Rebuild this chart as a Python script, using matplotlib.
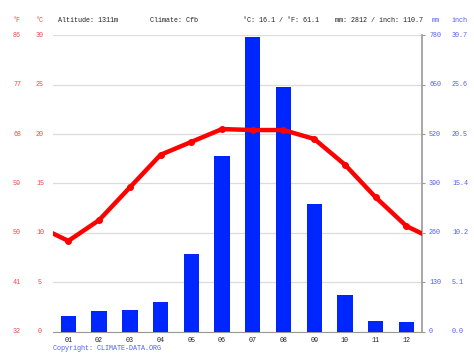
import matplotlib
matplotlib.use("Agg")
import matplotlib.pyplot as plt
from matplotlib.transforms import blended_transform_factory

months = ["01", "02", "03", "04", "05", "06", "07", "08", "09", "10", "11", "12"]
temp_c = [9.2, 11.3, 14.6, 17.9, 19.2, 20.5, 20.4, 20.4, 19.5, 16.9, 13.6, 10.7]
precip_mm = [43, 56, 59, 80, 205, 462, 775, 644, 335, 98, 30, 26]
c_ticks = [0, 5, 10, 15, 20, 25, 30]
mm_ticks = [0, 130, 260, 390, 520, 650, 780]
mean_c = 16.1
mean_f = 61.1
total_mm = 2812
total_inch = 110.7

RED = "#ff0000"
RED_TXT = "#f04848"
BLUE = "#0026ff"
BLUE_TXT = "#4f5ff0"
GRID = "#dcdcdc"
AXC = "#999999"
FONT = "Liberation Mono"
FS = 4.9

fig = plt.figure(figsize=(4.74, 3.55), dpi=100)
ax2 = fig.add_axes([0.1118, 0.0648, 0.778, 0.8366])
ax = ax2.twinx()
ax.set_zorder(ax2.get_zorder() + 1)
ax.patch.set_visible(False)

x = list(range(1, 13))

# precipitation bars
ax2.bar(x, precip_mm, width=0.5, color=BLUE, zorder=3)
ax2.set_ylim(0, 780)
ax2.set_xlim(0.5, 12.5)
for t in mm_ticks:
    ax2.axhline(t, color=GRID, lw=0.9, zorder=1)

# temperature line, extended to the edges with the Dec/Jan mean
edge = (temp_c[0] + temp_c[-1]) / 2
ax.plot([0.5] + x + [12.5], [edge] + temp_c + [edge], color=RED, lw=3.2,
        solid_joinstyle="round", zorder=5)
ax.plot(x, temp_c, "o", color=RED, ms=4, zorder=6)
ax.set_ylim(0, 30)
ax.set_xlim(0.5, 12.5)

for a in (ax, ax2):
    for s in ["top", "left", "right", "bottom"]:
        a.spines[s].set_visible(False)
    a.set_yticks([])
ax2.spines["bottom"].set_visible(True)
ax2.spines["bottom"].set_color(AXC)
ax2.spines["right"].set_visible(True)
ax2.spines["right"].set_color(AXC)
ax2.spines["right"].set_linewidth(1.2)

ax2.set_xticks([i + 0.5 for i in range(0, 13)])
ax2.set_xticklabels([])
ax2.tick_params(axis="x", length=2, color=AXC, width=0.8)
ax.set_xticks([])
for i, m in enumerate(months):
    ax2.text(i + 1, -12, m, ha="center", va="top", fontsize=FS,
             family=FONT, color="#222222")

# right side ticks
ax2.set_yticks(mm_ticks)
ax2.set_yticklabels([])
ax2.yaxis.set_ticks_position("right")
ax2.tick_params(axis="y", length=2, color=AXC, width=0.8)

trL = blended_transform_factory(fig.transFigure, ax.transData)
for c in c_ticks:
    f = c * 9 / 5 + 32
    ax.text(17 / 474, c, "%d" % round(f), ha="center", va="center",
            fontsize=FS, family=FONT, color=RED_TXT, transform=trL)
    ax.text(40 / 474, c, "%d" % c, ha="center", va="center",
            fontsize=FS, family=FONT, color=RED_TXT, transform=trL)

trR = blended_transform_factory(fig.transFigure, ax2.transData)
for mm in mm_ticks:
    ax2.text(429 / 474, mm, "%d" % mm, ha="left", va="center",
             fontsize=FS, family=FONT, color=BLUE_TXT, transform=trR)
    ax2.text(452 / 474, mm, "%.1f" % (mm / 25.4), ha="left", va="center",
             fontsize=FS, family=FONT, color=BLUE_TXT, transform=trR)

# header
hy = 1 - 20 / 355
fig.text(17 / 474, hy, "°F", ha="center", va="center", fontsize=FS, family=FONT, color=RED_TXT)
fig.text(40 / 474, hy, "°C", ha="center", va="center", fontsize=FS, family=FONT, color=RED_TXT)
fig.text(58 / 474, hy, "Altitude: 1311m", va="center", fontsize=FS, family=FONT, color="#222222")
fig.text(150 / 474, hy, "Climate: Cfb", va="center", fontsize=FS, family=FONT, color="#222222")
fig.text(243 / 474, hy, "°C: %.1f / °F: %.1f" % (mean_c, mean_f),
         va="center", fontsize=FS, family=FONT, color="#222222")
fig.text(335 / 474, hy, "mm: %d / inch: %.1f" % (total_mm, total_inch),
         va="center", fontsize=FS, family=FONT, color="#222222")
fig.text(432 / 474, hy, "mm", va="center", fontsize=FS, family=FONT, color=BLUE_TXT)
fig.text(452 / 474, hy, "inch", va="center", fontsize=FS, family=FONT, color=BLUE_TXT)

fig.text(53 / 474, 1 - 348 / 355, "Copyright: CLIMATE-DATA.ORG", va="center",
         fontsize=FS, family=FONT, color=BLUE_TXT)

fig.savefig("out.png", dpi=100)
